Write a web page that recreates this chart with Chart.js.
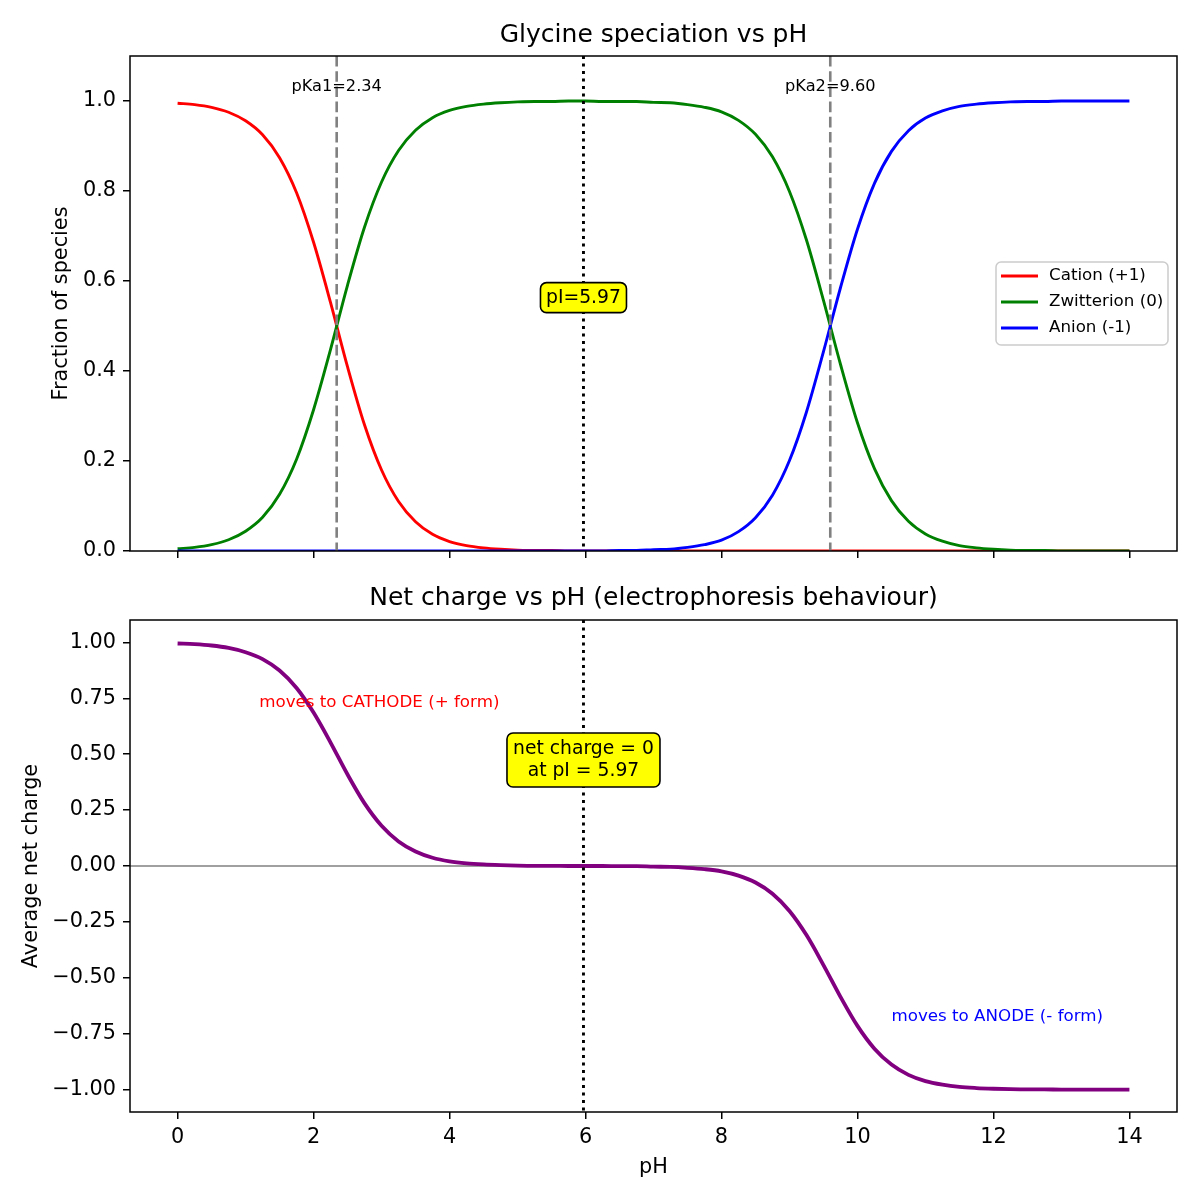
<!DOCTYPE html>
<html>
<head>
<meta charset="utf-8">
<script src="https://cdn.jsdelivr.net/npm/chart.js@4.4.0/dist/chart.umd.min.js"></script>
<style>
  html, body { margin: 0; padding: 0; background: #fff; }
  #wrap { position: relative; width: 1200px; height: 1200px; }
  #top { position: absolute; left: 0; top: 0; }
  #bottom { position: absolute; left: 0; top: 560px; }
</style>
</head>
<body>
<div id="wrap">
  <canvas id="top" width="1200" height="581"></canvas>
  <canvas id="bottom" width="1200" height="640"></canvas>
</div>
<script>
// values, every 0.25 pH unit
const pH = [0, 0.25, 0.5, 0.75, 1, 1.25, 1.5, 1.75, 2, 2.25, 2.5, 2.75, 3, 3.25, 3.5, 3.75,
            4, 4.25, 4.5, 4.75, 5, 5.25, 5.5, 5.75, 6, 6.25, 6.5, 6.75, 7, 7.25, 7.5, 7.75,
            8, 8.25, 8.5, 8.75, 9, 9.25, 9.5, 9.75, 10, 10.25, 10.5, 10.75, 11, 11.25, 11.5, 11.75,
            12, 12.25, 12.5, 12.75, 13, 13.25, 13.5, 13.75, 14];
const cation = [0.995, 0.992, 0.986, 0.975, 0.956, 0.925, 0.874, 0.796, 0.686, 0.552, 0.409, 0.280, 0.180, 0.110, 0.065, 0.037,
                0.021, 0.012, 0.007, 0.004, 0.002, 0.001, 0.001, 0.000, 0.000, 0.000, 0.000, 0.000, 0.000, 0.000, 0.000, 0.000,
                0.000, 0.000, 0.000, 0.000, 0.000, 0.000, 0.000, 0.000, 0.000, 0.000, 0.000, 0.000, 0.000, 0.000, 0.000, 0.000,
                0.000, 0.000, 0.000, 0.000, 0.000, 0.000, 0.000, 0.000, 0.000];
const zwitterion = [0.005, 0.008, 0.014, 0.025, 0.044, 0.075, 0.126, 0.204, 0.314, 0.448, 0.591, 0.720, 0.820, 0.890, 0.935, 0.963,
                    0.979, 0.988, 0.993, 0.996, 0.998, 0.999, 0.999, 1.000, 1.000, 0.999, 0.999, 0.999, 0.997, 0.996, 0.992, 0.986,
                    0.976, 0.957, 0.926, 0.876, 0.799, 0.691, 0.557, 0.415, 0.285, 0.183, 0.112, 0.066, 0.038, 0.022, 0.012, 0.007,
                    0.004, 0.002, 0.001, 0.001, 0.000, 0.000, 0.000, 0.000, 0.000];
const anion = [0.000, 0.000, 0.000, 0.000, 0.000, 0.000, 0.000, 0.000, 0.000, 0.000, 0.000, 0.000, 0.000, 0.000, 0.000, 0.000,
               0.000, 0.000, 0.000, 0.000, 0.000, 0.000, 0.000, 0.000, 0.000, 0.000, 0.001, 0.001, 0.003, 0.004, 0.008, 0.014,
               0.024, 0.043, 0.074, 0.124, 0.201, 0.309, 0.443, 0.585, 0.715, 0.817, 0.888, 0.934, 0.962, 0.978, 0.988, 0.993,
               0.996, 0.998, 0.999, 0.999, 1.000, 1.000, 1.000, 1.000, 1.000];
const netCharge = [0.995, 0.992, 0.986, 0.975, 0.956, 0.925, 0.874, 0.796, 0.686, 0.552, 0.409, 0.280, 0.180, 0.110, 0.065, 0.037,
                   0.021, 0.012, 0.007, 0.004, 0.002, 0.001, 0.001, 0.000, 0.000, 0.000, -0.001, -0.001, -0.003, -0.004, -0.008, -0.014,
                   -0.024, -0.043, -0.074, -0.124, -0.201, -0.309, -0.443, -0.585, -0.715, -0.817, -0.888, -0.934, -0.962, -0.978, -0.988, -0.993,
                   -0.996, -0.998, -0.999, -0.999, -1.000, -1.000, -1.000, -1.000, -1.000];

const pKa1 = 2.34, pKa2 = 9.60, pI = 5.97;

const xTicks = [0, 2, 4, 6, 8, 10, 12, 14];
const topYTicks = [0, 0.2, 0.4, 0.6, 0.8, 1.0];
const bottomYTicks = [-1, -0.75, -0.5, -0.25, 0, 0.25, 0.5, 0.75, 1];
const legendLabels = ['Cation (+1)', 'Zwitterion (0)', 'Anion (-1)'];

const FONT = '"DejaVu Sans", sans-serif';
Chart.defaults.font.family = FONT;
Chart.defaults.color = '#000';

const RED = '#ff0000', GREEN = '#008000', BLUE = '#0000ff', PURPLE = '#800080', GRAY = '#808080';
const BASE = 20.8;

function pts(ys) {
  return pH.map((x, i) => ({ x: x, y: ys[i] }));
}

function line(label, ys, color, width, order) {
  return {
    label: label, data: pts(ys), borderColor: color, borderWidth: width,
    pointRadius: 0, fill: false, cubicInterpolationMode: 'monotone', order: order
  };
}

function minus(s) { return s.replace('-', '\u2212'); }

function xScale(bottom) {
  return {
    type: 'linear', min: -0.7, max: 14.7,
    afterBuildTicks: s => { s.ticks = xTicks.map(v => ({ value: v })); },
    afterFit: s => { s.height = bottom ? 88 : 30; },
    grid: { drawOnChartArea: false, drawTicks: true, tickLength: 7, color: '#000', lineWidth: 1.5 },
    border: { display: false },
    ticks: { padding: 6, maxRotation: 0, font: { size: BASE }, callback: v => bottom ? String(v) : '' },
    title: { display: bottom, text: 'pH', font: { size: BASE }, padding: { bottom: 19.5 } }
  };
}

function yScale(min, max, ticks, fmt, title, titlePad) {
  return {
    min: min, max: max,
    afterBuildTicks: s => { s.ticks = ticks.map(v => ({ value: v })); },
    afterFit: s => { s.width = 130; },
    grid: { drawOnChartArea: false, drawTicks: true, tickLength: 7, color: '#000', lineWidth: 1.5 },
    border: { display: false },
    ticks: { padding: 7, font: { size: BASE }, callback: fmt },
    title: { display: true, text: title, font: { size: BASE }, padding: { top: titlePad } }
  };
}

function roundBox(ctx, x, y, w, h, r) {
  ctx.beginPath();
  ctx.moveTo(x + r, y);
  ctx.arcTo(x + w, y, x + w, y + h, r);
  ctx.arcTo(x + w, y + h, x, y + h, r);
  ctx.arcTo(x, y + h, x, y, r);
  ctx.arcTo(x, y, x + w, y, r);
  ctx.closePath();
}

function vline(chart, value, color, width, dash) {
  const { ctx, chartArea: a, scales: { x } } = chart;
  const px = x.getPixelForValue(value);
  ctx.save();
  ctx.strokeStyle = color; ctx.lineWidth = width; ctx.setLineDash(dash);
  ctx.beginPath(); ctx.moveTo(px, a.top); ctx.lineTo(px, a.bottom); ctx.stroke();
  ctx.restore();
}

function text(chart, str, xv, yv, size, color, align) {
  const { ctx, scales: { x, y } } = chart;
  ctx.save();
  ctx.font = size + 'px ' + FONT;
  ctx.fillStyle = color; ctx.textAlign = align; ctx.textBaseline = 'middle';
  ctx.fillText(str, x.getPixelForValue(xv), y.getPixelForValue(yv));
  ctx.restore();
}

function yellowBox(chart, lines, xv, yv, w, h) {
  const { ctx, scales: { x, y } } = chart;
  const cx = x.getPixelForValue(xv), cy = y.getPixelForValue(yv);
  ctx.save();
  roundBox(ctx, cx - w / 2, cy - h / 2, w, h, 6);
  ctx.fillStyle = '#ffff00'; ctx.fill();
  ctx.strokeStyle = '#000'; ctx.lineWidth = 1.6; ctx.stroke();
  ctx.font = '18.75px ' + FONT;
  ctx.fillStyle = '#000'; ctx.textAlign = 'center'; ctx.textBaseline = 'middle';
  const step = 21.5;
  lines.forEach((s, i) => {
    ctx.fillText(s, cx, cy + (i - (lines.length - 1) / 2) * step);
  });
  ctx.restore();
}

// axes frame plus a title centred over the plot area
function frameAndTitle(chart, title, titleY) {
  const { ctx, chartArea: a } = chart;
  ctx.save();
  ctx.strokeStyle = '#000'; ctx.lineWidth = 1.5;
  ctx.strokeRect(a.left, a.top, a.right - a.left, a.bottom - a.top);
  ctx.font = '25px ' + FONT;
  ctx.fillStyle = '#000'; ctx.textAlign = 'center'; ctx.textBaseline = 'middle';
  ctx.fillText(title, (a.left + a.right) / 2, titleY);
  ctx.restore();
}

const topMarks = {
  id: 'topMarks',
  afterDatasetsDraw(chart) {
    vline(chart, pKa1, GRAY, 2.6, [10.6, 4.6]);
    vline(chart, pKa2, GRAY, 2.6, [10.6, 4.6]);
    vline(chart, pI, '#000', 2.9, [2.9, 4.6]);
    text(chart, 'pKa1=' + pKa1.toFixed(2), pKa1, 1.032, 16.2, '#000', 'center');
    text(chart, 'pKa2=' + pKa2.toFixed(2), pKa2, 1.032, 16.2, '#000', 'center');
    yellowBox(chart, ['pI=' + pI.toFixed(2)], pI, 0.563, 86, 30);

    // legend, centre right
    const { ctx, chartArea: a } = chart;
    const colors = [RED, GREEN, BLUE];
    const right = a.right - 9, w = 172, h = 83;
    const midY = (a.top + a.bottom) / 2;
    const left = right - w, top = midY - h / 2;
    ctx.save();
    roundBox(ctx, left, top, w, h, 5);
    ctx.fillStyle = 'rgba(255,255,255,0.8)'; ctx.fill();
    ctx.strokeStyle = '#cccccc'; ctx.lineWidth = 1.5; ctx.stroke();
    ctx.font = '16.7px ' + FONT; ctx.textBaseline = 'middle'; ctx.textAlign = 'left';
    legendLabels.forEach((lab, i) => {
      const yy = top + 14 + i * 26;
      ctx.strokeStyle = colors[i]; ctx.lineWidth = 2.9;
      ctx.beginPath(); ctx.moveTo(left + 5, yy); ctx.lineTo(left + 42, yy); ctx.stroke();
      ctx.fillStyle = '#000';
      ctx.fillText(lab, left + 53, yy);
    });
    ctx.restore();
  },
  afterDraw(chart) { frameAndTitle(chart, 'Glycine speciation vs pH', 35); }
};

const bottomMarks = {
  id: 'bottomMarks',
  beforeDatasetsDraw(chart) {
    const { ctx, chartArea: a, scales: { y } } = chart;
    const py = y.getPixelForValue(0);
    ctx.save();
    ctx.strokeStyle = GRAY; ctx.lineWidth = 1.4;
    ctx.beginPath(); ctx.moveTo(a.left, py); ctx.lineTo(a.right, py); ctx.stroke();
    ctx.restore();
  },
  afterDatasetsDraw(chart) {
    vline(chart, pI, '#000', 2.9, [2.9, 4.6]);
    text(chart, 'moves to CATHODE (+ form)', 1.2, 0.73, 16.7, RED, 'left');
    text(chart, 'moves to ANODE (- form)', 10.5, -0.675, 16.7, BLUE, 'left');
    yellowBox(chart, ['net charge = 0', 'at pI = ' + pI.toFixed(2)], pI, 0.474, 153, 54);
  },
  afterDraw(chart) { frameAndTitle(chart, 'Net charge vs pH (electrophoresis behaviour)', 38); }
};

const common = {
  responsive: false, animation: false,
  plugins: { legend: { display: false }, tooltip: { enabled: false }, title: { display: false } }
};

new Chart(document.getElementById('top'), {
  type: 'line',
  data: {
    datasets: [
      line('Cation (+1)', cation, RED, 2.9, 3),
      line('Zwitterion (0)', zwitterion, GREEN, 2.9, 2),
      line('Anion (-1)', anion, BLUE, 2.9, 1)
    ]
  },
  options: {
    ...common,
    layout: { padding: { left: 0, right: 23, top: 56, bottom: 0 } },
    scales: {
      x: xScale(false),
      y: yScale(0, 1.1, topYTicks, v => v.toFixed(1), 'Fraction of species', 49.5)
    }
  },
  plugins: [topMarks]
});

new Chart(document.getElementById('bottom'), {
  type: 'line',
  data: {
    datasets: [line('Net charge', netCharge, PURPLE, 3.8, 1)]
  },
  options: {
    ...common,
    layout: { padding: { left: 0, right: 23, top: 60, bottom: 0 } },
    scales: {
      x: xScale(true),
      y: yScale(-1.1, 1.1, bottomYTicks, v => minus(v.toFixed(2)), 'Average net charge', 19.5)
    }
  },
  plugins: [bottomMarks]
});
</script>
</body>
</html>
